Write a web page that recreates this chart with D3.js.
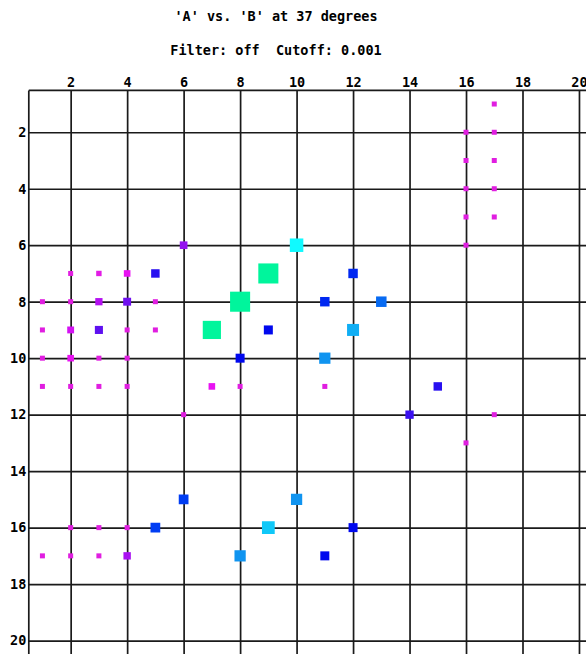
<!DOCTYPE html>
<html lang="en">
<head>
<meta charset="UTF-8" />
<title>'A' vs. 'B' at 37 degrees</title>
<script src="https://d3js.org/d3.v7.min.js"></script>
<style>
  body { margin: 0; background: #fff; }
  svg { display: block; }
  .title { font-family: "DejaVu Sans Mono", monospace; font-weight: bold; font-size: 13.5px; fill: #000; }
  .axis text { font-family: "DejaVu Sans Mono", monospace; font-weight: bold; font-size: 13.5px; fill: #000; }
  .axis line, .axis path { stroke: #1a1a1a; stroke-width: 1.7; }
</style>
</head>
<body>
<svg id="chart" width="586" height="654"></svg>
<script>
// tick labels shared by both axes
const tickValues = [2, 4, 6, 8, 10, 12, 14, 16, 18, 20];

// points: column (A), row (B), and a score that sets colour and size
const pointX = [
  17, 16, 17, 16, 17, 16, 17, 16, 17, 16,
  6, 10,
  2, 3, 4, 5, 9, 12,
  1, 2, 3, 4, 5, 8, 11, 13,
  1, 2, 3, 4, 5, 7, 9, 12,
  1, 2, 3, 4, 8, 11,
  1, 2, 3, 4, 7, 8, 11, 15,
  6, 14, 17,
  16,
  6, 10,
  2, 3, 4, 5, 9, 12,
  1, 2, 3, 4, 8, 11
];
const pointY = [
  1, 2, 2, 3, 3, 4, 4, 5, 5, 6,
  6, 6,
  7, 7, 7, 7, 7, 7,
  8, 8, 8, 8, 8, 8, 8, 8,
  9, 9, 9, 9, 9, 9, 9, 9,
  10, 10, 10, 10, 10, 10,
  11, 11, 11, 11, 11, 11, 11, 11,
  12, 12, 12,
  13,
  15, 15,
  16, 16, 16, 16, 16, 16,
  17, 17, 17, 17, 17, 17
];
const pointScore = [
  0, 0, 0, 0, 0, 0, 0, 0, 0, 0,
  0.2, 0.6,
  0, 0.03, 0.12, 0.26, 0.95, 0.33,
  0, 0, 0.17, 0.22, 0, 0.95, 0.33, 0.4,
  0, 0.14, 0.23, 0, 0, 0.85, 0.3, 0.5,
  0, 0.12, 0, 0, 0.3, 0.45,
  0, 0, 0, 0, 0.12, 0, 0, 0.26,
  0, 0.25, 0,
  0,
  0.35, 0.45,
  0, 0, 0, 0.35, 0.55, 0.3,
  0, 0, 0, 0.18, 0.45, 0.3
];

const points = pointX.map((x, i) => ({ x, y: pointY[i], s: pointScore[i] }));

const svg = d3.select("#chart");
const plotLeft = 28.3, plotTop = 89.9, unit = 28.24;

const x = d3.scaleLinear().domain([0.5, 20.5]).range([plotLeft, plotLeft + 20 * unit]);
const y = d3.scaleLinear().domain([0.5, 20.5]).range([plotTop, plotTop + 20 * unit]);

const color = d3.scaleLinear()
  .domain([0, 0.12, 0.2, 0.26, 0.3, 0.36, 0.45, 0.55, 0.6, 0.85, 1])
  .range(["#e01ee0", "#e812f2", "#9410f0", "#2810f0", "#0008ee", "#0048f4",
          "#1094f0", "#10c8f8", "#10faff", "#00f59c", "#00f59c"]);
const size = d3.scaleLinear().domain([0, 0.3, 0.6, 1]).range([5, 9, 13.5, 21]);

svg.append("text").attr("class", "title")
  .attr("x", 276).attr("y", 21).attr("text-anchor", "middle")
  .text("'A' vs. 'B' at 37 degrees");
svg.append("text").attr("class", "title")
  .attr("x", 276).attr("y", 55).attr("text-anchor", "middle")
  .attr("xml:space", "preserve")
  .text("Filter: off  Cutoff: 0.001");

const plotW = x.range()[1] - plotLeft, plotH = y.range()[1] - plotTop;

svg.append("g").attr("class", "axis")
  .attr("transform", `translate(0,${plotTop})`)
  .call(d3.axisTop(x).tickValues(tickValues).tickSizeInner(-plotH).tickSizeOuter(0).tickPadding(3))
  .call(g => g.selectAll("text").attr("font-family", null).attr("font-size", null));

svg.append("g").attr("class", "axis")
  .attr("transform", `translate(${plotLeft},0)`)
  .call(d3.axisLeft(y).tickValues(tickValues).tickSizeInner(-plotW).tickSizeOuter(0).tickPadding(2))
  .call(g => g.selectAll("text").attr("font-family", null).attr("font-size", null));

svg.append("g")
  .selectAll("rect")
  .data(points)
  .join("rect")
  .attr("x", d => x(d.x) - size(d.s) / 2)
  .attr("y", d => y(d.y) - size(d.s) / 2)
  .attr("width", d => size(d.s))
  .attr("height", d => size(d.s))
  .attr("fill", d => color(d.s));
</script>
</body>
</html>
